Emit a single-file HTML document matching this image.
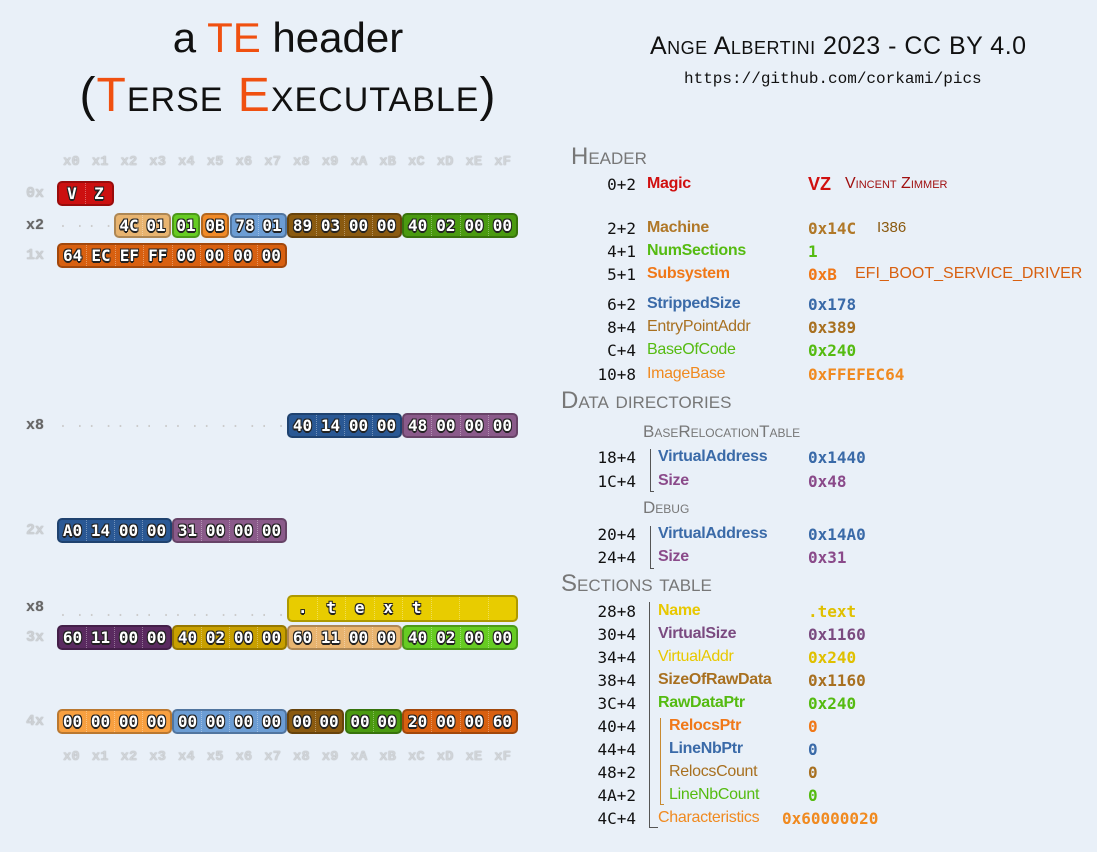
<!DOCTYPE html>
<html><head><meta charset="utf-8"><style>
body{margin:0;width:1097px;height:852px;background:#e9f0f8;position:relative;overflow:hidden;font-family:"Liberation Sans",sans-serif}
.a{position:absolute;white-space:nowrap}
.t1{font-size:42px;color:#111;left:0;width:576px;text-align:center}
.o{color:#f05010}
.sc{font-variant:small-caps}
.hx{display:flex;left:57px;width:460px;font-family:"Liberation Mono",monospace;font-weight:bold;font-size:14px;color:#d0d4d8;text-shadow:0 0 1px #999}
.hx span{flex:1;text-align:center}
.rl{font-family:"Liberation Mono",monospace;font-weight:bold;font-size:15px;color:#ccd0d4;width:30px;text-align:right;left:14px;text-shadow:0 0 1px #999}
.rl.d{color:#666}
.g{position:absolute;height:25px;border-radius:5px;display:flex;box-sizing:border-box;border:2px solid rgba(0,0,0,.25)}
.g span{flex:1;text-align:center;font-family:"DejaVu Sans Mono","Liberation Mono",monospace;font-weight:bold;font-size:16px;line-height:21px;color:#fff;text-shadow:-1px -1px 0 #222,1px -1px 0 #222,-1px 1px 0 #222,1px 1px 0 #222,0 2px 0 #222;border-right:1px dotted rgba(255,255,255,.35)}
.g span:last-child{border-right:none}
.dots{position:absolute;font-family:"Liberation Mono",monospace;font-size:14px;color:#ccc;display:flex}
.dots span{width:28.75px;text-align:center}
.R{background:#cc1010}.TAN{background:#e8b470}.GR{background:#66cc22}.OR{background:#f08a28}.BL{background:#6c9dd4}.BR{background:#8a5a10}.DG{background:#4a9a10}.DO{background:#d86010}.DB{background:#2a5894}.PU{background:#8a5a8a}.DP{background:#5a2a60}.OL{background:#c8a000}.YE{background:#e8cc00}.LO{background:#f8a040}
.off{font-family:"DejaVu Sans Mono","Liberation Mono",monospace;font-size:16px;color:#111;width:80px;text-align:right;left:556px}
.n{font-weight:bold;font-size:16px;left:647px;letter-spacing:-.3px;top:auto}
.v{font-family:"DejaVu Sans Mono","Liberation Mono",monospace;font-weight:bold;font-size:16px;left:808px}
.sec{font-size:24px;color:#777;font-variant:small-caps;left:561px}
.sub{font-size:17px;color:#777;font-variant:small-caps;left:643px}
.vl{position:absolute;border-left:1.5px solid #555}
</style></head><body>
<div class="a t1" style="top:14px">a <span class="o">TE</span> header</div>
<div class="a t1 sc" style="top:68px;font-size:48px;letter-spacing:1px">(<span class="o">T</span>erse <span class="o">E</span>xecutable)</div>
<div class="a sc" style="left:650px;top:32px;font-size:25px;color:#111;letter-spacing:.5px">Ange Albertini 2023 - CC BY 4.0</div>
<div class="a" style="left:684px;top:70px;font-size:16px;font-family:'Liberation Mono',monospace;color:#111">https://github.com/corkami/pics</div>

<div class="a hx" style="top:154px"><span>x0</span><span>x1</span><span>x2</span><span>x3</span><span>x4</span><span>x5</span><span>x6</span><span>x7</span><span>x8</span><span>x9</span><span>xA</span><span>xB</span><span>xC</span><span>xD</span><span>xE</span><span>xF</span></div>
<div class="a hx" style="top:749px"><span>x0</span><span>x1</span><span>x2</span><span>x3</span><span>x4</span><span>x5</span><span>x6</span><span>x7</span><span>x8</span><span>x9</span><span>xA</span><span>xB</span><span>xC</span><span>xD</span><span>xE</span><span>xF</span></div>

<div class="a rl" style="top:185px">0x</div>
<div class="a rl d" style="top:217px">x2</div>
<div class="a rl" style="top:247px">1x</div>
<div class="a rl d" style="top:417px">x8</div>
<div class="a rl" style="top:522px">2x</div>
<div class="a rl d" style="top:599px">x8</div>
<div class="a rl" style="top:629px">3x</div>
<div class="a rl" style="top:713px">4x</div>

<div class="g R" style="left:57px;top:181px;width:57px"><span>V</span><span>Z</span></div>

<div class="dots" style="left:57px;top:216px"><span>. .</span><span>. .</span></div>
<div class="g TAN" style="left:114px;top:213px;width:57px"><span>4C</span><span>01</span></div>
<div class="g GR" style="left:172px;top:213px;width:28px"><span>01</span></div>
<div class="g OR" style="left:201px;top:213px;width:28px"><span>0B</span></div>
<div class="g BL" style="left:230px;top:213px;width:57px"><span>78</span><span>01</span></div>
<div class="g BR" style="left:287px;top:213px;width:115px"><span>89</span><span>03</span><span>00</span><span>00</span></div>
<div class="g DG" style="left:402px;top:213px;width:116px"><span>40</span><span>02</span><span>00</span><span>00</span></div>

<div class="g DO" style="left:57px;top:243px;width:230px"><span>64</span><span>EC</span><span>EF</span><span>FF</span><span>00</span><span>00</span><span>00</span><span>00</span></div>

<div class="dots" style="left:57px;top:416px"><span>. .</span><span>. .</span><span>. .</span><span>. .</span><span>. .</span><span>. .</span><span>. .</span><span>. .</span></div>
<div class="g DB" style="left:287px;top:413px;width:115px"><span>40</span><span>14</span><span>00</span><span>00</span></div>
<div class="g PU" style="left:402px;top:413px;width:116px"><span>48</span><span>00</span><span>00</span><span>00</span></div>

<div class="g DB" style="left:57px;top:518px;width:115px"><span>A0</span><span>14</span><span>00</span><span>00</span></div>
<div class="g PU" style="left:172px;top:518px;width:115px"><span>31</span><span>00</span><span>00</span><span>00</span></div>

<div class="dots" style="left:57px;top:605px"><span>. .</span><span>. .</span><span>. .</span><span>. .</span><span>. .</span><span>. .</span><span>. .</span><span>. .</span></div>
<div class="g YE" style="left:287px;top:595px;width:231px;height:27px"><span>.</span><span>t</span><span>e</span><span>x</span><span>t</span><span></span><span></span><span></span></div>

<div class="g DP" style="left:57px;top:625px;width:115px"><span>60</span><span>11</span><span>00</span><span>00</span></div>
<div class="g OL" style="left:172px;top:625px;width:115px"><span>40</span><span>02</span><span>00</span><span>00</span></div>
<div class="g TAN" style="left:287px;top:625px;width:115px"><span>60</span><span>11</span><span>00</span><span>00</span></div>
<div class="g GR" style="left:402px;top:625px;width:116px"><span>40</span><span>02</span><span>00</span><span>00</span></div>

<div class="g LO" style="left:57px;top:709px;width:115px"><span>00</span><span>00</span><span>00</span><span>00</span></div>
<div class="g BL" style="left:172px;top:709px;width:115px"><span>00</span><span>00</span><span>00</span><span>00</span></div>
<div class="g BR" style="left:287px;top:709px;width:57px"><span>00</span><span>00</span></div>
<div class="g DG" style="left:345px;top:709px;width:57px"><span>00</span><span>00</span></div>
<div class="g DO" style="left:402px;top:709px;width:116px"><span>20</span><span>00</span><span>00</span><span>60</span></div>

<!-- right side -->
<div class="a sec" style="left:571px;top:143px">Header</div>
<div class="a off" style="top:175px">0+2</div><div class="a n" style="top:175px;color:#d01010">Magic</div><div class="a" style="left:808px;top:174px;font-weight:bold;font-size:18px;color:#d01010">VZ</div><div class="a sc" style="left:845px;top:175px;font-size:16px;color:#a01010">Vincent Zimmer</div>

<div class="a off" style="top:219px">2+2</div><div class="a n" style="top:219px;color:#b07828">Machine</div><div class="a v" style="top:219px;color:#b07828">0x14C</div><div class="a" style="left:877px;top:219px;font-size:15px;color:#8a5a10">I386</div>
<div class="a off" style="top:242px">4+1</div><div class="a n" style="top:242px;color:#55bb11">NumSections</div><div class="a v" style="top:242px;color:#55bb11">1</div>
<div class="a off" style="top:265px">5+1</div><div class="a n" style="top:265px;color:#f07818">Subsystem</div><div class="a v" style="top:265px;color:#f07818">0xB</div><div class="a" style="left:855px;top:265px;font-size:16px;color:#d86010">EFI_BOOT_SERVICE_DRIVER</div>
<div class="a off" style="top:295px">6+2</div><div class="a n" style="top:295px;color:#3a6aa8">StrippedSize</div><div class="a v" style="top:295px;color:#3a6aa8">0x178</div>
<div class="a off" style="top:318px">8+4</div><div class="a n" style="top:318px;color:#a87020;font-weight:normal">EntryPointAddr</div><div class="a v" style="top:318px;color:#a87020">0x389</div>
<div class="a off" style="top:341px">C+4</div><div class="a n" style="top:341px;color:#55bb11;font-weight:normal">BaseOfCode</div><div class="a v" style="top:341px;color:#55bb11">0x240</div>
<div class="a off" style="top:365px">10+8</div><div class="a n" style="top:365px;color:#f08a20;font-weight:normal">ImageBase</div><div class="a v" style="top:365px;color:#f08a20">0xFFEFEC64</div>

<div class="a sec" style="top:387px">Data directories</div>
<div class="a sub" style="top:422px">BaseRelocationTable</div>
<div class="vl" style="left:650px;top:449px;height:42px;border-bottom:1.5px solid #555;width:3px"></div>
<div class="a off" style="top:448px">18+4</div><div class="a n" style="left:658px;top:448px;color:#3a6aa8">VirtualAddress</div><div class="a v" style="top:448px;color:#3a6aa8">0x1440</div>
<div class="a off" style="top:472px">1C+4</div><div class="a n" style="left:658px;top:472px;color:#8a4a8a">Size</div><div class="a v" style="top:472px;color:#8a4a8a">0x48</div>
<div class="a sub" style="top:498px">Debug</div>
<div class="vl" style="left:650px;top:526px;height:42px;border-bottom:1.5px solid #555;width:3px"></div>
<div class="a off" style="top:525px">20+4</div><div class="a n" style="left:658px;top:525px;color:#3a6aa8">VirtualAddress</div><div class="a v" style="top:525px;color:#3a6aa8">0x14A0</div>
<div class="a off" style="top:548px">24+4</div><div class="a n" style="left:658px;top:548px;color:#8a4a8a">Size</div><div class="a v" style="top:548px;color:#8a4a8a">0x31</div>

<div class="a sec" style="top:570px">Sections table</div>
<div class="vl" style="left:649px;top:602px;height:225px;border-bottom:1.5px solid #555;width:8px"></div>
<div class="vl" style="left:660px;top:718px;height:86px;border-left-color:#c88a30;border-bottom:1.5px solid #c88a30;width:3px"></div>
<div class="a off" style="top:602px">28+8</div><div class="a n" style="left:658px;top:602px;color:#e8c800">Name</div><div class="a v" style="top:602px;color:#e0c000">.text</div>
<div class="a off" style="top:625px">30+4</div><div class="a n" style="left:658px;top:625px;color:#7a4a80">VirtualSize</div><div class="a v" style="top:625px;color:#7a4a80">0x1160</div>
<div class="a off" style="top:648px">34+4</div><div class="a n" style="left:658px;top:648px;color:#e8c800;font-weight:normal">VirtualAddr</div><div class="a v" style="top:648px;color:#e0c000">0x240</div>
<div class="a off" style="top:671px">38+4</div><div class="a n" style="left:658px;top:671px;color:#a87020">SizeOfRawData</div><div class="a v" style="top:671px;color:#a87020">0x1160</div>
<div class="a off" style="top:694px">3C+4</div><div class="a n" style="left:658px;top:694px;color:#55bb11">RawDataPtr</div><div class="a v" style="top:694px;color:#55bb11">0x240</div>
<div class="a off" style="top:717px">40+4</div><div class="a n" style="left:669px;top:717px;color:#f07818">RelocsPtr</div><div class="a v" style="top:717px;color:#f07818">0</div>
<div class="a off" style="top:740px">44+4</div><div class="a n" style="left:669px;top:740px;color:#3a6aa8">LineNbPtr</div><div class="a v" style="top:740px;color:#3a6aa8">0</div>
<div class="a off" style="top:763px">48+2</div><div class="a n" style="left:669px;top:763px;color:#a87020;font-weight:normal">RelocsCount</div><div class="a v" style="top:763px;color:#a87020">0</div>
<div class="a off" style="top:786px">4A+2</div><div class="a n" style="left:669px;top:786px;color:#55bb11;font-weight:normal">LineNbCount</div><div class="a v" style="top:786px;color:#55bb11">0</div>
<div class="a off" style="top:809px">4C+4</div><div class="a n" style="left:658px;top:809px;color:#f08a20;font-weight:normal">Characteristics</div><div class="a v" style="left:782px;top:809px;color:#f08a20">0x60000020</div>
</body></html>
